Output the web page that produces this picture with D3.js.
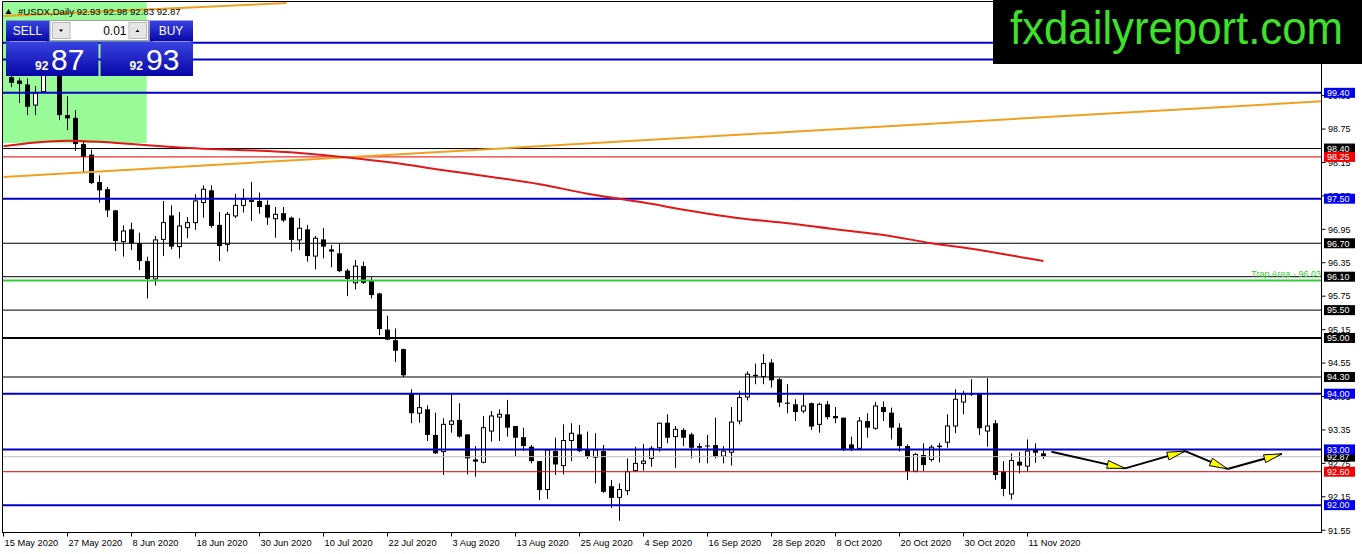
<!DOCTYPE html>
<html>
<head>
<meta charset="utf-8">
<script src="https://cdn.jsdelivr.net/npm/d3@7"></script>
<style>
  body { margin: 0; background: #fff; }
  svg { display: block; font-family: "Liberation Sans", Arial, sans-serif; }
</style>
</head>
<body>
<svg id="chart"></svg>
<script>
// #USDX Daily, bar 0 = 15 May 2020, one bar per weekday
const opens = [99.68,99.62,99.55,99.18,99.42,99.80,99.90,99.00,98.95,98.48,
  98.29,97.80,97.67,97.29,96.73,96.95,96.70,96.38,96.06,96.77,
  97.20,96.64,96.98,97.07,97.43,97.65,97.03,96.68,97.19,97.38,
  97.45,97.46,97.39,97.14,97.24,97.16,96.76,96.95,96.47,96.77,
  96.59,96.52,96.21,95.99,96.29,96.02,95.80,95.15,94.96,94.80,
  94.00,93.65,93.72,93.26,92.96,93.45,93.53,93.27,92.82,92.77,
  93.33,93.58,93.63,93.42,93.22,93.05,92.79,92.28,92.97,92.71,
  93.16,93.27,92.99,92.86,92.97,92.34,92.14,92.26,92.62,92.75,
  92.84,93.03,93.48,93.23,93.35,93.27,93.06,93.07,93.08,92.88,
  92.95,93.51,93.94,94.32,94.31,94.56,94.26,93.84,93.81,93.69,
  93.83,93.45,93.81,93.60,93.57,93.09,93.02,93.51,93.38,93.76,
  93.66,93.39,93.06,92.61,92.90,92.82,93.05,93.13,93.42,93.85,
  94.00,94.00,93.33,93.47,92.60,92.20,92.78,92.70,92.99,92.93];
const highs = [99.80,99.67,99.66,99.52,99.90,99.95,100.00,99.34,99.09,98.54,
  98.38,97.92,97.71,97.30,97.02,97.07,96.89,96.46,96.83,97.46,
  97.38,97.26,97.17,97.58,97.74,97.74,97.26,97.26,97.59,97.68,
  97.80,97.61,97.47,97.35,97.35,97.18,97.15,97.03,96.83,96.97,
  96.67,96.70,96.24,96.40,96.37,96.09,95.81,95.40,95.17,94.81,
  94.08,93.99,93.79,93.66,93.56,93.99,93.83,93.27,93.06,93.60,
  93.69,93.72,93.89,93.42,93.39,93.08,92.79,92.99,93.21,93.45,
  93.47,93.44,93.32,93.29,93.08,92.45,92.39,92.84,93.05,93.10,
  93.06,93.48,93.63,93.42,93.38,93.30,93.11,93.26,93.57,93.06,
  93.76,94.05,94.40,94.54,94.71,94.62,94.28,94.17,93.90,93.99,
  93.84,93.84,93.87,93.76,93.57,93.23,93.58,93.65,93.85,93.86,
  93.75,93.47,93.09,92.94,93.11,93.08,93.12,93.63,94.08,94.05,
  94.26,94.01,94.28,93.53,92.79,92.93,92.95,93.18,93.11,92.98];
const lows = [99.50,99.22,99.00,99.00,99.40,99.72,98.91,98.73,98.36,97.98,
  97.76,97.43,97.17,96.56,96.46,96.58,96.22,95.71,95.94,96.47,
  96.59,96.43,96.79,96.94,97.16,96.98,96.38,96.55,97.15,97.25,
  97.10,97.23,97.03,96.80,97.08,96.55,96.58,96.37,96.23,96.43,
  96.27,96.18,95.75,95.87,95.97,95.71,95.05,94.96,94.57,94.30,
  93.47,93.48,93.15,92.92,92.54,93.30,93.21,92.55,92.51,92.75,
  93.14,93.15,93.23,92.88,92.97,92.75,92.09,92.11,92.54,92.55,
  92.79,92.95,92.83,92.39,92.22,91.95,91.72,92.18,92.60,92.62,
  92.69,92.96,93.11,92.67,93.06,92.84,92.76,92.75,92.84,92.75,
  92.71,93.45,93.88,94.17,94.17,94.11,93.76,93.65,93.51,93.65,
  93.35,93.30,93.54,93.47,92.97,92.97,93.00,93.21,93.35,93.51,
  93.18,92.96,92.45,92.59,92.61,92.78,92.77,93.03,93.29,93.63,
  93.96,93.26,93.05,92.45,92.16,92.10,92.57,92.60,92.76,92.83];
const closes = [99.58,99.56,99.15,99.39,99.80,99.85,99.00,98.94,98.48,98.25,
  97.78,97.65,97.29,96.74,96.92,96.70,96.38,96.06,96.76,97.07,
  96.64,97.01,97.07,97.46,97.67,97.01,96.65,97.22,97.38,97.49,
  97.47,97.35,97.16,97.22,97.11,96.76,96.97,96.47,96.79,96.64,
  96.55,96.20,96.06,96.29,95.99,95.77,95.16,94.97,94.77,94.33,
  93.65,93.75,93.26,92.93,93.45,93.51,93.23,92.84,92.78,93.39,
  93.60,93.63,93.39,93.21,93.06,92.79,92.27,92.99,92.73,93.16,
  93.29,92.97,92.87,92.99,92.24,92.13,92.28,92.60,92.75,92.79,
  93.02,93.47,93.21,93.36,93.21,93.03,93.03,93.06,92.87,92.97,
  93.49,93.93,94.35,94.33,94.54,94.24,93.84,93.82,93.67,93.78,
  93.41,93.81,93.58,93.56,92.99,93.01,93.51,93.39,93.78,93.67,
  93.39,93.06,92.61,92.91,92.72,93.04,93.06,93.42,93.90,93.99,
  93.99,93.38,93.42,92.54,92.29,92.80,92.71,92.97,92.94,92.87];

// moving average, read at a few bars
const maBars = [0, 4, 8, 12, 16, 22, 37, 43, 49, 55, 61, 67, 73, 80, 86, 92, 98, 104, 110, 116, 122, 128, 130];
const maVals = [98.44, 98.51, 98.54, 98.52, 98.48, 98.42, 98.32, 98.24, 98.14, 98.01, 97.89, 97.76, 97.59, 97.43,
  97.28, 97.15, 97.06, 96.95, 96.85, 96.70, 96.58, 96.43, 96.38];

// horizontal levels
const levelPrices = [100.30, 100.00, 99.40, 98.40, 98.25, 97.50, 96.70, 96.10, 96.03, 95.50, 95.00, 94.30, 94.00, 93.00, 92.60, 92.00];
const levelKinds = ["key", "key", "key", "mid", "alert", "key", "mid", "mid", "trap", "mid", "round", "mid", "key", "key", "alert", "key"];
const bidPrice = 92.87;

// trend lines: [bar, price] pairs
const orangeLow = [[0, 97.89], [165, 99.25]];
const orangeHigh = [[0, 100.78], [35.4, 101.01]];
const greenZone = {bar0: -1, bar1: 17.9, p0: 98.50, p1: 102};

// projected path
const arrowBars = [131, 140.2, 147.7, 153.0, 159.8];
const arrowPrices = [92.96, 92.66, 92.97, 92.65, 92.92];

const dateLabels = ["15 May 2020", "27 May 2020", "8 Jun 2020", "18 Jun 2020", "30 Jun 2020", "10 Jul 2020",
  "22 Jul 2020", "3 Aug 2020", "13 Aug 2020", "25 Aug 2020", "4 Sep 2020", "16 Sep 2020", "28 Sep 2020",
  "8 Oct 2020", "20 Oct 2020", "30 Oct 2020", "11 Nov 2020"];
const priceTicks = [91.55, 92.15, 92.75, 93.35, 93.95, 94.55, 95.15, 95.75, 96.35, 96.95, 97.55, 98.15, 98.75, 99.35, 99.95, 100.55];

const W = 1362, H = 554;
const LEFT = 3, RIGHT = 1322, TOP = 1.5, BOTTOM = 533;
const LOGO_BOTTOM = 64;
const BLUE = "#0000c8", BOX_BLUE = "#0000ee";
const kindStyle = {
  key:   {color: BLUE, width: 2, box: BOX_BLUE},
  mid:   {color: "#000", width: 1, box: "#000"},
  round: {color: "#000", width: 2, box: "#000"},
  alert: {color: "#e00000", width: 1, box: "#f00000"},
  trap:  {color: "#32cd32", width: 2, box: null}
};

const svg = d3.select('#chart').attr('width', W).attr('height', H);
svg.append('rect').attr('width', W).attr('height', H).attr('fill', '#fff');

const x = d3.scaleLinear().domain([0, 165]).range([3.5, 3.5 + 165 * 8]);
const y = d3.scaleLinear().domain([91.5, 101.03]).range([BOTTOM, 2]);

const defs = svg.append('defs');
defs.append('clipPath').attr('id', 'plot')
  .append('rect').attr('x', LEFT).attr('y', TOP).attr('width', RIGHT - LEFT).attr('height', BOTTOM - TOP);
const grad = defs.append('linearGradient').attr('id', 'btn').attr('x1', 0).attr('x2', 0).attr('y1', 0).attr('y2', 1);
grad.append('stop').attr('offset', 0).attr('stop-color', '#3a44e0');
grad.append('stop').attr('offset', 1).attr('stop-color', '#0606a6');

const plot = svg.append('g').attr('clip-path', 'url(#plot)');

// green zone
plot.append('rect')
  .attr('x', x(greenZone.bar0)).attr('width', x(greenZone.bar1) - x(greenZone.bar0))
  .attr('y', y(greenZone.p1)).attr('height', y(greenZone.p0) - y(greenZone.p1))
  .attr('fill', '#98fb98');

// candles
const bars = opens.map((o, i) => ({i: i + 1, o: o, h: highs[i], l: lows[i], c: closes[i]}));
plot.selectAll('.wick').data(bars).join('line')
  .attr('x1', d => x(d.i)).attr('x2', d => x(d.i))
  .attr('y1', d => y(d.h)).attr('y2', d => y(d.l))
  .attr('stroke', '#000').attr('stroke-width', 1);
plot.selectAll('.down').data(bars.filter(d => d.c < d.o)).join('rect')
  .attr('x', d => x(d.i) - 2.5).attr('width', 5)
  .attr('y', d => y(d.o)).attr('height', d => Math.max(1, y(d.c) - y(d.o)))
  .attr('fill', '#000');
plot.selectAll('.up').data(bars.filter(d => d.c >= d.o)).join('rect')
  .attr('x', d => x(d.i) - 2).attr('width', 4)
  .attr('y', d => y(d.c)).attr('height', d => Math.max(0.5, y(d.o) - y(d.c)))
  .attr('fill', '#fff').attr('stroke', '#000').attr('stroke-width', 1);

// level lines
const levels = levelPrices.map((p, i) => ({p: p, s: kindStyle[levelKinds[i]]}));
plot.append('line')
  .attr('x1', LEFT).attr('x2', RIGHT).attr('y1', y(bidPrice)).attr('y2', y(bidPrice))
  .attr('stroke', '#c0c0c0').attr('stroke-width', 1);
plot.selectAll('.lvl').data(levels).join('line')
  .attr('x1', LEFT).attr('x2', RIGHT)
  .attr('y1', d => y(d.p)).attr('y2', d => y(d.p))
  .attr('stroke', d => d.s.color).attr('stroke-width', d => d.s.width);

// orange trend lines
const line = d3.line().x(d => x(d[0])).y(d => y(d[1]));
[orangeLow, orangeHigh].forEach(t => {
  plot.append('path').attr('d', line(t)).attr('fill', 'none')
    .attr('stroke', '#f0a020').attr('stroke-width', 2);
});

// moving average
const maLine = d3.line().x(d => x(d[0])).y(d => y(d[1])).curve(d3.curveMonotoneX);
plot.append('path').attr('d', maLine(maBars.map((b, i) => [b, maVals[i]])))
  .attr('fill', 'none').attr('stroke', '#e01818').attr('stroke-width', 2);

// projection arrows
for (let k = 0; k < arrowBars.length - 1; k++) {
  const x0 = x(arrowBars[k]), y0 = y(arrowPrices[k]);
  const x1 = x(arrowBars[k + 1]), y1 = y(arrowPrices[k + 1]);
  const len = Math.hypot(x1 - x0, y1 - y0), ux = (x1 - x0) / len, uy = (y1 - y0) / len;
  plot.append('line').attr('x1', x0).attr('y1', y0).attr('x2', x1).attr('y2', y1)
    .attr('stroke', '#000').attr('stroke-width', 2);
  const bx = x1 - ux * 18, by = y1 - uy * 18;
  plot.append('path')
    .attr('d', `M${x1},${y1}L${bx - uy * 4},${by + ux * 4}L${bx + uy * 4},${by - ux * 4}Z`)
    .attr('fill', '#ffff00').attr('stroke', '#000').attr('stroke-width', 1);
}

// trap area text
plot.append('text').attr('x', RIGHT - 1).attr('y', y(96.03) - 3.5)
  .attr('text-anchor', 'end').attr('font-size', 9).attr('fill', '#32cd32')
  .text('Trap Area - 96.03');

// frame
svg.append('line').attr('x1', 2.5).attr('x2', 2.5).attr('y1', TOP).attr('y2', BOTTOM).attr('stroke', '#000');
svg.append('line').attr('x1', 2.5).attr('x2', RIGHT).attr('y1', TOP).attr('y2', TOP).attr('stroke', '#000');
svg.append('line').attr('x1', RIGHT - 0.5).attr('x2', RIGHT - 0.5).attr('y1', TOP).attr('y2', BOTTOM).attr('stroke', '#000');
svg.append('line').attr('x1', 2.5).attr('x2', RIGHT).attr('y1', BOTTOM - 0.5).attr('y2', BOTTOM - 0.5).attr('stroke', '#000');

// time axis
const tg = svg.append('g');
dateLabels.forEach((lab, k) => {
  const xx = x(k * 8);
  tg.append('line').attr('x1', xx).attr('x2', xx).attr('y1', BOTTOM).attr('y2', BOTTOM + 3.5).attr('stroke', '#000');
  tg.append('text').attr('x', xx + 1).attr('y', 546).attr('font-size', 9.3).attr('fill', '#000').text(lab);
});

// price axis (labels under the logo are hidden in the original, so skip them)
const pg = svg.append('g');
priceTicks.forEach(p => {
  pg.append('line').attr('x1', RIGHT).attr('x2', RIGHT + 3.5).attr('y1', y(p)).attr('y2', y(p)).attr('stroke', '#000');
  if (y(p) - 4 > LOGO_BOTTOM) {
    pg.append('text').attr('x', 1328).attr('y', y(p) + 3.3).attr('font-size', 9).attr('fill', '#000').text(p.toFixed(2));
  }
});
function tag(p, fill) {
  if (y(p) - 5 < LOGO_BOTTOM) return;
  pg.append('rect').attr('x', 1324).attr('y', y(p) - 5).attr('width', 31).attr('height', 10).attr('fill', fill);
  pg.append('text').attr('x', 1327).attr('y', y(p) + 3.3).attr('font-size', 9).attr('fill', '#fff').text(p.toFixed(2));
}
tag(bidPrice, '#000');
levels.filter(d => d.s.box).forEach(d => tag(d.p, d.s.box));

// header
svg.append('path').attr('d', 'M5.5,14L8.5,9L11.5,14Z').attr('fill', '#000');
svg.append('text').attr('x', 18).attr('y', 14.5).attr('font-size', 9.6).attr('fill', '#000')
  .text('#USDX,Daily  92.93 92.98 92.83 92.87');

// one-click trading panel
const panel = svg.append('g');
panel.append('rect').attr('x', 6).attr('y', 20.5).attr('width', 43.5).attr('height', 21).attr('fill', 'url(#btn)');
panel.append('rect').attr('x', 149.5).attr('y', 20.5).attr('width', 43.5).attr('height', 21).attr('fill', 'url(#btn)');
panel.append('rect').attr('x', 6).attr('y', 41.5).attr('width', 92.5).attr('height', 34.5).attr('fill', 'url(#btn)');
panel.append('rect').attr('x', 100.5).attr('y', 41.5).attr('width', 92.5).attr('height', 34.5).attr('fill', 'url(#btn)');
panel.append('line').attr('x1', 10).attr('x2', 46).attr('y1', 41.5).attr('y2', 41.5).attr('stroke', '#8f96f0');
panel.append('line').attr('x1', 153).attr('x2', 190).attr('y1', 41.5).attr('y2', 41.5).attr('stroke', '#8f96f0');
panel.append('rect').attr('x', 50).attr('y', 20.5).attr('width', 98.5).attr('height', 20).attr('fill', '#fff').attr('stroke', '#a0a0a0');
panel.append('rect').attr('x', 52.5).attr('y', 22.5).attr('width', 17.5).attr('height', 16).attr('fill', '#e6e6e6').attr('stroke', '#b8b8b8');
panel.append('rect').attr('x', 129).attr('y', 22.5).attr('width', 17.5).attr('height', 16).attr('fill', '#e6e6e6').attr('stroke', '#b8b8b8');
panel.append('path').attr('d', 'M59,29.5L63,29.5L61,32Z').attr('fill', '#000');
panel.append('path').attr('d', 'M135.5,32L139.5,32L137.5,29.5Z').attr('fill', '#000');
panel.append('text').attr('x', 126.5).attr('y', 35).attr('text-anchor', 'end').attr('font-size', 12).attr('fill', '#000').text('0.01');
panel.append('text').attr('x', 27.5).attr('y', 35).attr('text-anchor', 'middle').attr('font-size', 12).attr('fill', '#fff').text('SELL');
panel.append('text').attr('x', 171).attr('y', 35).attr('text-anchor', 'middle').attr('font-size', 12).attr('fill', '#fff').text('BUY');
panel.append('text').attr('x', 35).attr('y', 70).attr('font-size', 12).attr('font-weight', 'bold').attr('fill', '#fff').text('92');
panel.append('text').attr('x', 51).attr('y', 70).attr('font-size', 30).attr('fill', '#fff').text('87');
panel.append('text').attr('x', 129.5).attr('y', 70).attr('font-size', 12).attr('font-weight', 'bold').attr('fill', '#fff').text('92');
panel.append('text').attr('x', 146).attr('y', 70).attr('font-size', 30).attr('fill', '#fff').text('93');

// logo
svg.append('rect').attr('x', 993).attr('y', 0).attr('width', W - 993).attr('height', LOGO_BOTTOM).attr('fill', '#000');
svg.append('text').attr('x', 1010).attr('y', 43.5).attr('font-size', 46)
  .attr('textLength', 333).attr('lengthAdjust', 'spacingAndGlyphs')
  .attr('fill', '#3ee02c').text('fxdailyreport.com');
</script>
</body>
</html>
